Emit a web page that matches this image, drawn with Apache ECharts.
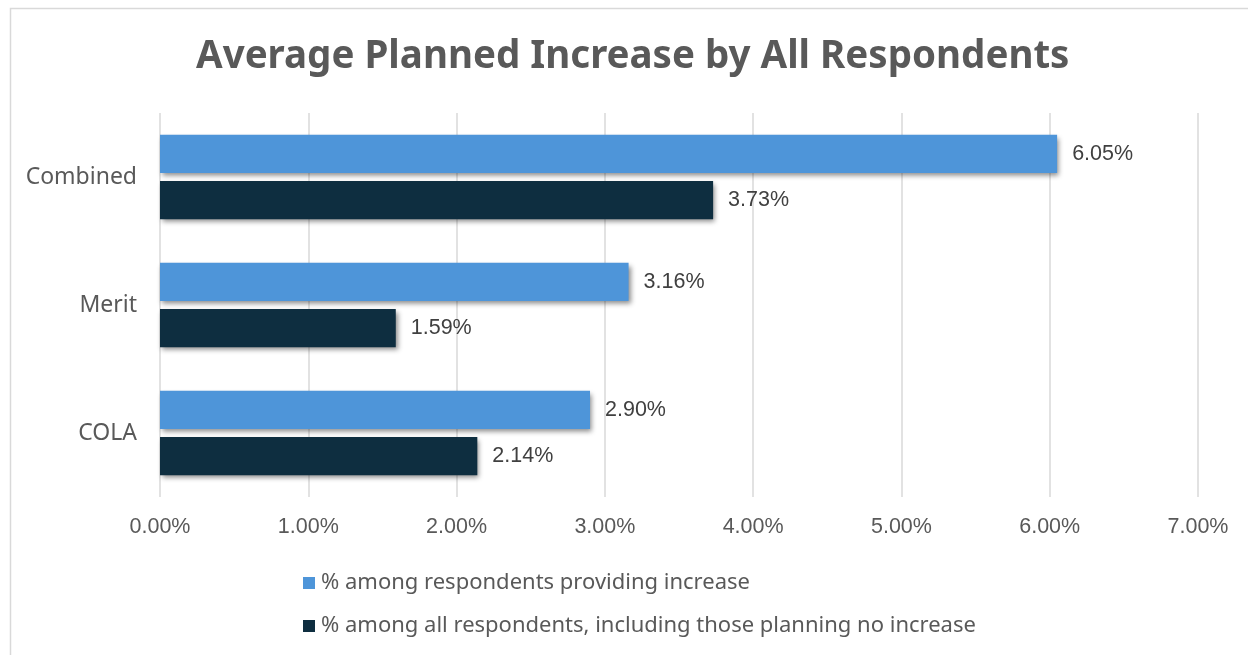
<!DOCTYPE html>
<html>
<head>
<meta charset="utf-8">
<script src="https://cdn.jsdelivr.net/npm/echarts@6/dist/echarts.min.js"></script>
<style>html,body{margin:0;padding:0;background:#fff;}#c{width:1248px;height:655px;}</style>
</head>
<body>
<div id="c"></div>
<script>
const categories = ['Combined', 'Merit', 'COLA'];
const seriesNames = ['% among respondents providing increase', '% among all respondents, including those planning no increase'];
const providingIncrease = [6.05, 3.16, 2.90];
const allRespondents = [3.73, 1.59, 2.14];
const xTicks = [0, 1, 2, 3, 4, 5, 6, 7];

const chart = echarts.init(document.getElementById('c'));
const shadow = {shadowColor: 'rgba(0,0,0,0.45)', shadowBlur: 5, shadowOffsetX: 2, shadowOffsetY: 3};
const labelStyle = {show: true, position: 'right', distance: 15, color: '#404040', fontSize: 21.5, fontFamily: 'Liberation Sans',
  formatter: p => p.value.toFixed(2) + '%'};
chart.setOption({
  animation: false,
  backgroundColor: '#fff',
  graphic: [{type: 'rect', shape: {x: 10.5, y: 8.5, width: 1300, height: 700}, style: {fill: 'none', stroke: '#d9d9d9', lineWidth: 1.5}, silent: true}],
  title: {text: 'Average Planned Increase by All Respondents', left: 191, top: 33,
    textStyle: {fontSize: 38.5, fontWeight: 'bold', color: '#595959', fontFamily: 'Noto Sans'}},
  grid: {left: 160, right: 50, top: 113, bottom: 158, containLabel: false},
  legend: {orient: 'vertical', left: 298, top: 567, itemWidth: 12, itemHeight: 12, itemGap: 21, icon: 'rect',
    textStyle: {fontSize: 22, color: '#595959', fontFamily: 'Noto Sans', padding: [0, 0, 0, 1]},
    data: seriesNames},
  xAxis: {type: 'value', min: xTicks[0], max: xTicks[xTicks.length - 1], interval: 1,
    axisLine: {show: false}, axisTick: {show: false},
    splitLine: {show: true, lineStyle: {color: '#d9d9d9', width: 1.5}},
    axisLabel: {margin: 19, fontSize: 21.5, color: '#595959', fontFamily: 'Liberation Sans', formatter: v => v.toFixed(2) + '%'}},
  yAxis: {type: 'category', data: categories, inverse: true,
    axisLine: {show: false}, axisTick: {show: false},
    axisLabel: {margin: 23, fontSize: 23, color: '#595959', fontFamily: 'Noto Sans'}},
  series: [
    {name: seriesNames[0], type: 'bar', data: providingIncrease, barGap: '21%', barCategoryGap: '34%',
      itemStyle: Object.assign({color: '#4E95D9'}, shadow), label: labelStyle},
    {name: seriesNames[1], type: 'bar', data: allRespondents,
      itemStyle: Object.assign({color: '#0E2E40'}, shadow), label: labelStyle}
  ]
});
</script>
</body>
</html>
